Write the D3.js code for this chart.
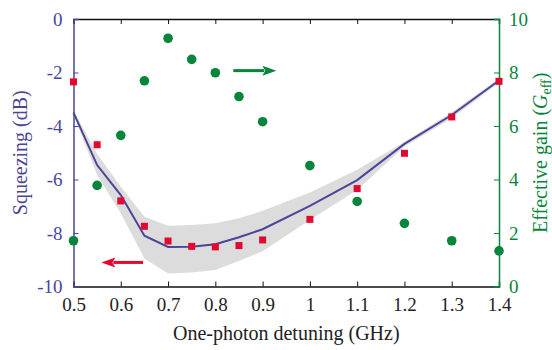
<!DOCTYPE html>
<html>
<head>
<meta charset="utf-8">
<script src="https://cdn.jsdelivr.net/npm/d3@7"></script>
<style>
  body { margin: 0; background: #fff; }
  svg text { font-family: "Liberation Serif", "Times New Roman", "DejaVu Serif", serif; }
</style>
</head>
<body>
<svg id="chart" width="552" height="350"></svg>
<script>
// detuning values (GHz)
const detuning = [0.5, 0.55, 0.6, 0.65, 0.7, 0.75, 0.8, 0.85, 0.9, 1.0, 1.1, 1.2, 1.3, 1.4];
// measured squeezing (dB)
const squeezingMeas = [-2.35, -4.7, -6.8, -7.75, -8.3, -8.5, -8.52, -8.47, -8.26, -7.49, -6.34, -5.02, -3.66, -2.33];
// theory line and uncertainty band (dB)
const squeezingTheory = [-3.5, -5.46, -6.58, -8.1, -8.52, -8.51, -8.42, -8.16, -7.86, -6.99, -6.02, -4.67, -3.59, -2.3];
const bandUpper = [-3.42, -5.05, -6.27, -7.39, -7.73, -7.7, -7.64, -7.45, -7.17, -6.49, -5.64, -4.6, -3.49, -2.22];
const bandLower = [-3.58, -5.83, -7.26, -8.95, -9.51, -9.48, -9.38, -9.05, -8.68, -7.51, -6.39, -4.77, -3.71, -2.38];
// effective gain
const gainEff = [1.71, 3.78, 5.65, 7.69, 9.28, 8.49, 7.99, 7.1, 6.16, 4.52, 3.18, 2.36, 1.71, 1.33];

const xTicks = [0.5, 0.6, 0.7, 0.8, 0.9, 1.0, 1.1, 1.2, 1.3, 1.4];
const leftTicks = [0, -2, -4, -6, -8, -10];
const rightTicks = [0, 2, 4, 6, 8, 10];

const blue = '#4b4599';
const green = '#08843c';
const red = '#e2082f';
const serif = '"Liberation Serif", "Times New Roman", "DejaVu Serif", serif';

const svg = d3.select('#chart');
const margin = { top: 19, right: 53, bottom: 63.5, left: 73.5 };
const width = 552, height = 350;
const innerWidth = width - margin.left - margin.right;
const innerHeight = height - margin.top - margin.bottom;

const x = d3.scaleLinear().domain([0.5, 1.4]).range([0, innerWidth]);
const yL = d3.scaleLinear().domain([-10, 0]).range([innerHeight, 0]);
const yR = d3.scaleLinear().domain([0, 10]).range([innerHeight, 0]);

const g = svg.append('g').attr('transform', `translate(${margin.left}, ${margin.top})`);

// gray band
const area = d3.area()
  .x((d, i) => x(detuning[i]))
  .y0((d, i) => yL(bandLower[i]))
  .y1((d, i) => yL(bandUpper[i]));
g.append('path')
  .attr('d', area(detuning))
  .attr('fill', '#dcdcdc');

// theory line
const line = d3.line()
  .x((d, i) => x(detuning[i]))
  .y(d => yL(d));
g.append('path')
  .attr('d', line(squeezingTheory))
  .attr('fill', 'none')
  .attr('stroke', blue)
  .attr('stroke-width', 2);

// axes
const styleAxis = (sel, color) => {
  sel.attr('font-family', serif);
  sel.selectAll('path').attr('stroke', color).attr('stroke-width', 1.5);
  sel.selectAll('line').attr('stroke', color).attr('stroke-width', 1);
  sel.selectAll('text').attr('fill', color).attr('font-size', 19);
};

const xAxis = g.append('g')
  .attr('transform', `translate(0, ${innerHeight})`)
  .call(d3.axisBottom(x).tickValues(xTicks).tickSize(-5).tickPadding(11)
    .tickFormat(d => d === 1 ? '1' : d.toFixed(1)));
styleAxis(xAxis, '#111');
xAxis.selectAll('text').attr('fill', '#222');

const topAxis = g.append('g')
  .call(d3.axisTop(x).tickValues(xTicks).tickSize(-5).tickFormat(''));
styleAxis(topAxis, '#111');

const leftAxis = g.append('g')
  .call(d3.axisLeft(yL).tickValues(leftTicks).tickSize(-5).tickPadding(11).tickFormat(d => String(d)));
styleAxis(leftAxis, blue);

const rightAxis = g.append('g')
  .attr('transform', `translate(${innerWidth}, 0)`)
  .call(d3.axisRight(yR).tickValues(rightTicks).tickSize(-5).tickPadding(10).tickFormat(d => String(d)));
styleAxis(rightAxis, green);

// green dots
g.selectAll('circle.gain')
  .data(gainEff)
  .enter()
  .append('circle')
  .attr('class', 'gain')
  .attr('cx', (d, i) => x(detuning[i]))
  .attr('cy', d => yR(d))
  .attr('r', 4.8)
  .attr('fill', green);

// red squares
const sq = 7;
g.selectAll('rect.meas')
  .data(squeezingMeas)
  .enter()
  .append('rect')
  .attr('class', 'meas')
  .attr('x', (d, i) => x(detuning[i]) - sq / 2)
  .attr('y', d => yL(d) - sq / 2)
  .attr('width', sq)
  .attr('height', sq)
  .attr('fill', red);

// arrows
const drawArrow = (x1, x2, yPix, color, dir) => {
  const head = 14, hw = 5;
  if (dir < 0) {
    g.append('line').attr('x1', x1 + head - 2).attr('x2', x2).attr('y1', yPix).attr('y2', yPix)
      .attr('stroke', color).attr('stroke-width', 3);
    g.append('path')
      .attr('d', `M${x1},${yPix} L${x1 + head},${yPix - hw} L${x1 + head - 3},${yPix} L${x1 + head},${yPix + hw} Z`)
      .attr('fill', color);
  } else {
    g.append('line').attr('x1', x1).attr('x2', x2 - head + 2).attr('y1', yPix).attr('y2', yPix)
      .attr('stroke', color).attr('stroke-width', 3);
    g.append('path')
      .attr('d', `M${x2},${yPix} L${x2 - head},${yPix - hw} L${x2 - head + 3},${yPix} L${x2 - head},${yPix + hw} Z`)
      .attr('fill', color);
  }
};
drawArrow(x(0.559), x(0.647), yL(-9.1), red, -1);
drawArrow(x(0.838), x(0.929), yR(8.07), green, 1);

// axis titles
svg.append('text')
  .attr('x', margin.left + innerWidth / 2)
  .attr('y', 340)
  .attr('text-anchor', 'middle')
  .attr('fill', '#222')
  .attr('font-size', 20)
  .text('One-photon detuning (GHz)');

svg.append('text')
  .attr('transform', `translate(27, ${margin.top + innerHeight / 2}) rotate(-90)`)
  .attr('text-anchor', 'middle')
  .attr('fill', blue)
  .attr('font-size', 20)
  .text('Squeezing (dB)');

const rt = svg.append('text')
  .attr('transform', `translate(547, ${margin.top + innerHeight / 2}) rotate(-90)`)
  .attr('text-anchor', 'middle')
  .attr('fill', green)
  .attr('font-size', 20);
rt.append('tspan').text('Effective gain (');
rt.append('tspan').attr('font-style', 'italic').text('G');
rt.append('tspan').attr('dy', 4).attr('font-size', 14).text('eff');
rt.append('tspan').attr('dy', -4).text(')');
</script>
</body>
</html>
